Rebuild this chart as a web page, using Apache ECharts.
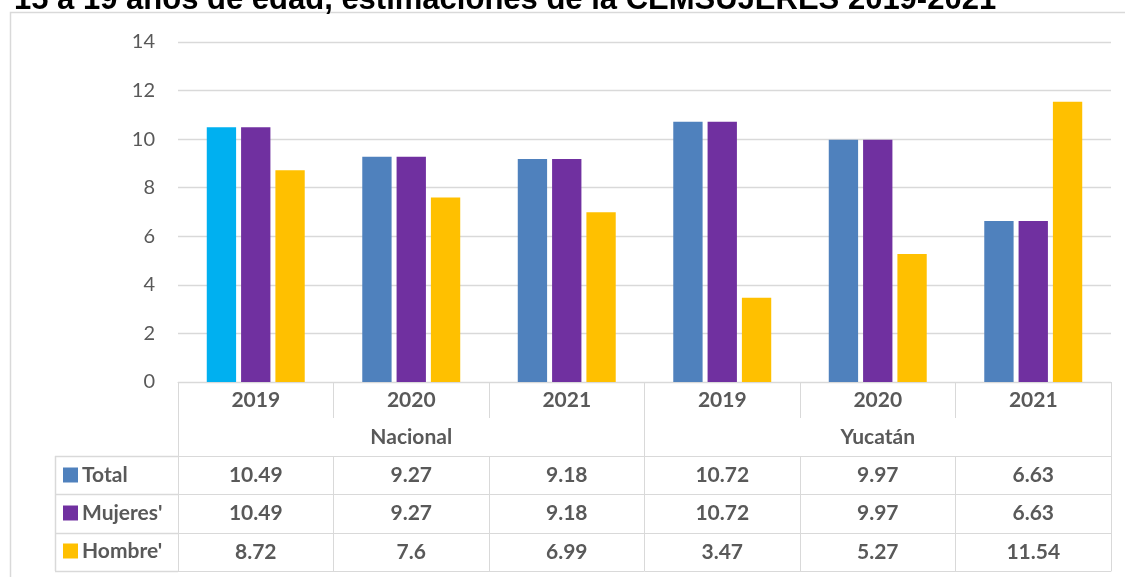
<!DOCTYPE html>
<html>
<head>
<meta charset="utf-8">
<title>CEMSUJERES 2019-2021</title>
<script src="https://cdn.jsdelivr.net/npm/echarts@6/dist/echarts.min.js"></script>
<style>
    html, body { margin: 0; padding: 0; background: #fff; }
    #main { width: 1125px; height: 577px; }
</style>
</head>
<body>
<div id="main"></div>
<script>
// datos
var years = ['2019', '2020', '2021', '2019', '2020', '2021'];
var regions = ['Nacional', 'Yucatán'];
var total = [10.49, 9.27, 9.18, 10.72, 9.97, 6.63];
var mujeres = [10.49, 9.27, 9.18, 10.72, 9.97, 6.63];
var hombre = [8.72, 7.6, 6.99, 3.47, 5.27, 11.54];
var seriesNames = ['Total', "Mujeres'", "Hombre'"];
var yTicks = { min: 0, max: 14, interval: 2 };

var gris = '#d9d9d9';
var texto = '#595959';
var fuente = 'Lato';

var myChart = echarts.init(document.getElementById('main'));

// filas de la tabla de datos (eje x extra por fila)
function filaTabla(vals, offset, largo) {
    return {
        type: 'category',
        position: 'bottom',
        offset: offset,
        data: years,
        axisLine: { show: true, lineStyle: { color: gris, width: 1 } },
        axisTick: { show: true, interval: 0, length: largo, lineStyle: { color: gris } },
        axisLabel: {
            interval: 0, margin: largo / 2, verticalAlign: 'middle',
            color: texto, fontFamily: fuente, fontWeight: 'bold', fontSize: 21,
            formatter: function (v, i) { return vals ? String(vals[i]) : ''; }
        }
    };
}

var totalData = total.map(function (v, i) {
    // la primera barra va en celeste en el original
    if (i === 0) return { value: v, itemStyle: { color: '#00b0f0' } };
    return v;
});

myChart.setOption({
    animation: false,
    title: {
        text: '15 a 19 años de edad, estimaciones de la CEMSUJERES 2019-2021',
        left: 9,
        top: -20,
        textStyle: { fontFamily: 'Liberation Sans', fontWeight: 'bold', fontSize: 31, color: '#000' }
    },
    legend: {
        orient: 'vertical',
        left: 63,
        top: 456,
        padding: 0,
        itemGap: 0,
        itemWidth: 15,
        itemHeight: 15,
        icon: 'rect',
        selectedMode: false,
        data: seriesNames,
        textStyle: { fontFamily: fuente, fontWeight: 'bold', fontSize: 21, color: texto, lineHeight: 38, padding: [0, 0, 0, -1] }
    },
    grid: { left: 178, right: 14, top: 42, bottom: 195 },
    xAxis: [
        {
            type: 'category',
            data: years,
            axisLine: { lineStyle: { color: gris } },
            axisTick: { show: true, interval: 0, length: 36, lineStyle: { color: gris } },
            axisLabel: { interval: 0, margin: 18, verticalAlign: 'middle', color: texto, fontFamily: fuente, fontWeight: 'bold', fontSize: 21 }
        },
        {
            type: 'category',
            position: 'bottom',
            offset: 36,
            data: regions,
            axisLine: { show: false },
            axisTick: { show: true, interval: 0, length: 38, lineStyle: { color: gris } },
            axisLabel: { interval: 0, margin: 19, verticalAlign: 'middle', color: texto, fontFamily: fuente, fontWeight: 'bold', fontSize: 21 }
        },
        filaTabla(total, 74, 38),
        filaTabla(mujeres, 112, 39),
        filaTabla(hombre, 151, 38),
        {
            type: 'category', position: 'bottom', offset: 189, data: years,
            axisLine: { show: true, lineStyle: { color: gris } },
            axisTick: { show: false }, axisLabel: { show: false }
        }
    ],
    yAxis: {
        type: 'value',
        min: yTicks.min,
        max: yTicks.max,
        interval: yTicks.interval,
        axisLine: { show: false },
        axisTick: { show: false },
        axisLabel: { margin: 23, color: texto, fontFamily: fuente, fontSize: 20 },
        splitLine: { lineStyle: { color: gris, width: 1.3 } }
    },
    // marco exterior y columna de leyenda
    graphic: [
        { type: 'rect', shape: { x: 10.5, y: 12.5, width: 1300, height: 700 }, style: { fill: 'none', stroke: gris, lineWidth: 1.5 }, silent: true },
        { type: 'line', shape: { x1: 55.5, y1: 456, x2: 55.5, y2: 571 }, style: { stroke: gris, lineWidth: 1.5 } },
        { type: 'line', shape: { x1: 55, y1: 456.5, x2: 178, y2: 456.5 }, style: { stroke: gris, lineWidth: 1.5 } },
        { type: 'line', shape: { x1: 55, y1: 494.5, x2: 178, y2: 494.5 }, style: { stroke: gris, lineWidth: 1.5 } },
        { type: 'line', shape: { x1: 55, y1: 533.5, x2: 178, y2: 533.5 }, style: { stroke: gris, lineWidth: 1.5 } },
        { type: 'line', shape: { x1: 55, y1: 571.5, x2: 178, y2: 571.5 }, style: { stroke: gris, lineWidth: 1.5 } }
    ],
    series: [
        { name: seriesNames[0], type: 'bar', data: totalData, barGap: '17%', barCategoryGap: '37%', itemStyle: { color: '#4f81bd' } },
        { name: seriesNames[1], type: 'bar', data: mujeres, itemStyle: { color: '#7030a0' } },
        { name: seriesNames[2], type: 'bar', data: hombre, itemStyle: { color: '#ffc000' } }
    ]
});
</script>
</body>
</html>
